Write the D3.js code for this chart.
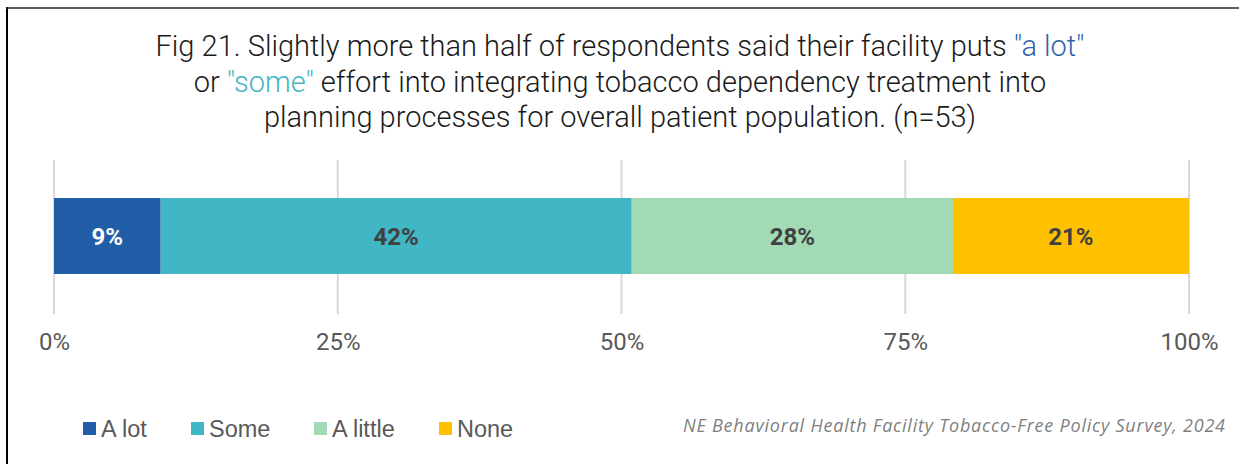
<!DOCTYPE html>
<html>
<head>
<meta charset="utf-8">
<script src="https://cdn.jsdelivr.net/npm/d3@7"></script>
<style>
  html, body { margin: 0; padding: 0; background: #ffffff; }
  svg { display: block; }
</style>
</head>
<body>
<svg id="chart" width="1239" height="464"></svg>
<script>
// Survey response shares (percent of n=53)
const categories = ["A lot", "Some", "A little", "None"];
const values = [9.4, 41.5, 28.3, 20.8];
const colors = ["#225ea8", "#41b6c4", "#a1dab4", "#ffc000"];
const labelColors = ["#ffffff", "#404040", "#404040", "#404040"];
const tickValues = [0, 25, 50, 75, 100];
const tickLabels = ["0%", "25%", "50%", "75%", "100%"];

// Title lines, each a list of [text, colour] runs
const titleLines = [
  [["Fig 21. Slightly more than half of respondents said their facility puts ", "#1a1a1a"], ["\"a lot\"", "#2f64ab"]],
  [["or ", "#1a1a1a"], ["\"some\"", "#45b5c4"], [" effort into integrating tobacco dependency treatment into", "#1a1a1a"]],
  [["planning processes for overall patient population. (n=53)", "#1a1a1a"]]
];
const sourceNote = "NE Behavioral Health Facility Tobacco-Free Policy Survey, 2024";

const svg = d3.select("#chart");

// Frame lines
svg.append("line").attr("x1", 7).attr("x2", 7).attr("y1", 7).attr("y2", 464)
  .attr("stroke", "#000").attr("stroke-width", 2);
svg.append("line").attr("x1", 6).attr("x2", 1239).attr("y1", 8).attr("y2", 8)
  .attr("stroke", "#262626").attr("stroke-width", 1.5);

// Title
const title = svg.append("text")
  .attr("text-anchor", "middle")
  .attr("font-family", "Roboto")
  .attr("font-weight", 300)
  .attr("font-size", 29);
titleLines.forEach((runs, i) => {
  runs.forEach((r, j) => {
    const t = title.append("tspan").attr("fill", r[1]).text(r[0]);
    if (j === 0) t.attr("x", 620).attr("y", 56 + i * 35.5);
  });
});

// Scales
const x = d3.scaleLinear().domain([0, 100]).range([54, 1189]);
const barTop = 198, barH = 76;

// Gridlines
svg.append("g").selectAll("line").data(tickValues).join("line")
  .attr("x1", d => x(d)).attr("x2", d => x(d))
  .attr("y1", 160).attr("y2", 314)
  .attr("stroke", "#d9d9d9").attr("stroke-width", 2);

// Axis labels
const axis = d3.axisBottom(x).tickValues(tickValues)
  .tickFormat((d, i) => tickLabels[i]).tickSize(0).tickPadding(0);
const axisG = svg.append("g").attr("transform", "translate(0,332)").call(axis);
axisG.select(".domain").remove();
axisG.selectAll("text")
  .attr("font-family", "Roboto").attr("font-weight", 400)
  .attr("font-size", 24).attr("fill", "#595959").attr("dy", "0.75em");

// Stacked segments
const starts = d3.cumsum([0].concat(values.slice(0, -1)));
const segs = categories.map((c, i) => ({ c, v: values[i], s: starts[i], i }));

svg.append("g").selectAll("rect").data(segs).join("rect")
  .attr("x", d => x(d.s)).attr("y", barTop)
  .attr("width", d => x(d.s + d.v) - x(d.s)).attr("height", barH)
  .attr("fill", d => colors[d.i]);

svg.append("g").selectAll("text").data(segs).join("text")
  .attr("x", d => x(d.s + d.v / 2)).attr("y", barTop + barH / 2)
  .attr("dy", "0.355em")
  .attr("text-anchor", "middle")
  .attr("font-family", "Roboto").attr("font-weight", 700)
  .attr("font-size", 24)
  .attr("fill", d => labelColors[d.i])
  .text(d => Math.round(d.v) + "%");

// Legend
const legendX = [83, 191, 314, 439];
const legend = svg.append("g").selectAll("g").data(categories).join("g")
  .attr("transform", (d, i) => `translate(${legendX[i]},422)`);
legend.append("rect").attr("width", 13).attr("height", 13)
  .attr("fill", (d, i) => colors[i]);
legend.append("text").attr("x", 18).attr("y", 14.5)
  .attr("font-family", "Liberation Sans").attr("font-size", 23.5)
  .attr("fill", "#595959").text(d => d);

// Source note
svg.append("text")
  .attr("x", 1225).attr("y", 432)
  .attr("text-anchor", "end")
  .attr("font-family", "Open Sans").attr("font-style", "italic")
  .attr("font-size", 18).attr("fill", "#7f7f7f")
  .attr("textLength", 542).attr("lengthAdjust", "spacing")
  .text(sourceNote);
</script>
</body>
</html>
